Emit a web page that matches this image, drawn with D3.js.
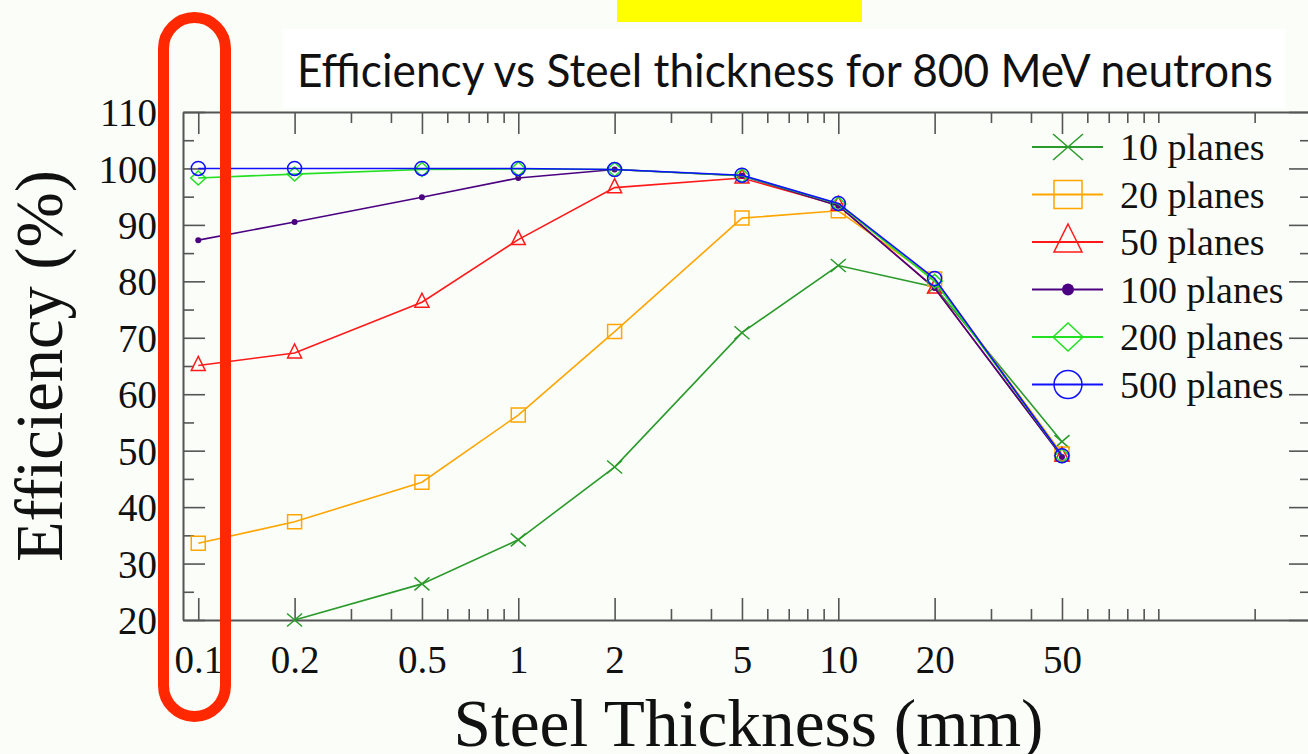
<!DOCTYPE html>
<html>
<head>
<meta charset="utf-8">
<script src="https://cdn.jsdelivr.net/npm/d3@7"></script>
<style>
  html, body { margin: 0; padding: 0; background: #fbfdf9; }
  svg { display: block; }
</style>
</head>
<body>
<script>
// data
const thickness = [0.1, 0.2, 0.5, 1, 2, 5, 10, 20, 50];
const planes10  = [null, 20, 26.4, 34.2, 47.1, 70.9, 82.8, 79.0, 51.6];
const planes20  = [33.6, 37.4, 44.4, 56.3, 71.1, 91.2, 92.5, 80.4, 49.4];
const planes50  = [65.1, 67.3, 76.3, 87.4, 96.6, 98.3, 93.5, 78.8, 49.0];
const planes100 = [87.3, 90.5, 94.9, 98.3, 99.8, 98.7, 93.4, 78.8, 48.9];
const planes200 = [98.3, 99.0, 99.8, 99.9, 99.8, 98.7, 93.7, 80.0, 49.1];
const planes500 = [100, 100, 100, 100, 99.8, 98.8, 93.8, 80.5, 49.1];
const seriesNames = ["10 planes", "20 planes", "50 planes", "100 planes", "200 planes", "500 planes"];
const xMajor = [0.1, 0.2, 0.5, 1, 2, 5, 10, 20, 50];
const xMinor = [0.3, 0.4, 0.6, 0.7, 0.8, 0.9, 3, 4, 6, 7, 8, 9, 30, 40, 60, 70, 80, 90, 100, 200];
const yMajor = [20, 30, 40, 50, 60, 70, 80, 90, 100, 110];
const yMinor = [25, 35, 45, 55, 65, 75, 85, 95, 105];

const W = 1308, H = 754;
const plotLeft = 183, plotRight = 1311, plotTop = 112, plotBottom = 620;
const axisColor = "#555";

const series = [
  { name: seriesNames[0], values: planes10,  color: "#2a9a2a", shape: "x" },
  { name: seriesNames[1], values: planes20,  color: "#ffa500", shape: "square" },
  { name: seriesNames[2], values: planes50,  color: "#ff1a1a", shape: "triangle" },
  { name: seriesNames[3], values: planes100, color: "#4b0082", shape: "dot" },
  { name: seriesNames[4], values: planes200, color: "#22e022", shape: "diamond" },
  { name: seriesNames[5], values: planes500, color: "#1010ff", shape: "circle" }
];

const svg = d3.select("body").append("svg")
  .attr("width", W)
  .attr("height", H);

// yellow tab + title box
svg.append("rect").attr("x", 617).attr("y", 0).attr("width", 245).attr("height", 22).attr("fill", "#ffff00");
svg.append("rect").attr("x", 283).attr("y", 29).attr("width", 1002).attr("height", 79).attr("fill", "#ffffff");
svg.append("text")
  .attr("x", 297).attr("y", 87)
  .attr("font-family", "Lato, 'Open Sans', sans-serif")
  .attr("font-size", 46)
  .attr("textLength", 976)
  .attr("lengthAdjust", "spacingAndGlyphs")
  .attr("fill", "#111")
  .text("Efficiency vs Steel thickness for 800 MeV neutrons");

const x = d3.scaleLog().domain([0.0896, 300]).range([plotLeft, plotRight]);
const y = d3.scaleLinear().domain([20, 110]).range([plotBottom, plotTop]);

const serif = "'Liberation Serif', 'DejaVu Serif', serif";

function styleAxis(g) {
  g.select(".domain").attr("stroke", axisColor).attr("stroke-width", 2);
  g.selectAll(".tick line").attr("stroke", axisColor).attr("stroke-width", 1.6);
  g.attr("font-family", serif).attr("font-size", 39);
  g.selectAll("text").attr("fill", "#111");
}

// bottom axis
const gx = svg.append("g").attr("transform", "translate(0," + plotBottom + ")")
  .call(d3.axisBottom(x).tickValues(xMajor).tickSize(-22).tickSizeOuter(0).tickFormat(d3.format("")));
styleAxis(gx);
gx.selectAll("text").attr("y", 53).attr("dy", null);
svg.append("g").attr("transform", "translate(0," + plotBottom + ")")
  .call(d3.axisBottom(x).tickValues(xMinor).tickSize(-11).tickFormat(""))
  .call(g => g.select(".domain").remove())
  .call(styleAxis);

// top axis
const gt = svg.append("g").attr("transform", "translate(0," + plotTop + ")")
  .call(d3.axisTop(x).tickValues(xMajor).tickSize(-22).tickSizeOuter(0).tickFormat(""));
styleAxis(gt);
svg.append("g").attr("transform", "translate(0," + plotTop + ")")
  .call(d3.axisTop(x).tickValues(xMinor).tickSize(-11).tickFormat(""))
  .call(g => g.select(".domain").remove())
  .call(styleAxis);

// left axis
const gy = svg.append("g").attr("transform", "translate(" + plotLeft + ",0)")
  .call(d3.axisLeft(y).tickValues(yMajor).tickSize(-22).tickSizeOuter(0));
styleAxis(gy);
gy.selectAll("text").attr("x", -26).attr("dy", "0.35em");
svg.append("g").attr("transform", "translate(" + plotLeft + ",0)")
  .call(d3.axisLeft(y).tickValues(yMinor).tickSize(-11).tickFormat(""))
  .call(g => g.select(".domain").remove())
  .call(styleAxis);

// right axis
svg.append("g").attr("transform", "translate(" + plotRight + ",0)")
  .call(d3.axisRight(y).tickValues(yMajor).tickSize(-22).tickSizeOuter(0).tickFormat(""))
  .call(styleAxis);
svg.append("g").attr("transform", "translate(" + plotRight + ",0)")
  .call(d3.axisRight(y).tickValues(yMinor).tickSize(-11).tickFormat(""))
  .call(g => g.select(".domain").remove())
  .call(styleAxis);

// axis titles
svg.append("text")
  .attr("x", (452 + 1045) / 2).attr("y", 746)
  .attr("text-anchor", "middle")
  .attr("font-family", serif).attr("font-size", 68)
  .attr("textLength", 590).attr("lengthAdjust", "spacingAndGlyphs")
  .attr("fill", "#111")
  .text("Steel Thickness (mm)");

svg.append("text")
  .attr("transform", "translate(62,366)rotate(-90)")
  .attr("text-anchor", "middle")
  .attr("font-family", serif).attr("font-size", 67)
  .attr("textLength", 392).attr("lengthAdjust", "spacingAndGlyphs")
  .attr("fill", "#111")
  .text("Efficiency (%)");

// marker shapes at plot size
function shapePath(shape) {
  if (shape === "x") return "M-7.5,-6.5L7.5,6.5M-7.5,6.5L7.5,-6.5";
  if (shape === "square") return "M-7,-7L7,-7L7,7L-7,7Z";
  if (shape === "triangle") return "M0,-9L7,5L-7,5Z";
  if (shape === "diamond") return "M0,-7L7.5,0L0,7L-7.5,0Z";
  if (shape === "circle") return d3.symbol(d3.symbolCircle, Math.PI * 49)();
  return d3.symbol(d3.symbolCircle, Math.PI * 9)();
}

function drawMarker(g, s, scale) {
  g.append("path")
    .attr("d", shapePath(s.shape))
    .attr("transform", "scale(" + scale + ")")
    .attr("vector-effect", "non-scaling-stroke")
    .attr("fill", s.shape === "dot" ? s.color : "none")
    .attr("stroke", s.color)
    .attr("stroke-width", s.shape === "dot" ? 0 : 1.5);
}

const line = d3.line()
  .defined(d => d.v != null)
  .x(d => x(d.t))
  .y(d => y(d.v));

series.forEach(s => {
  const pts = thickness.map((t, i) => ({ t: t, v: s.values[i] }));
  svg.append("path")
    .datum(pts)
    .attr("d", line)
    .attr("fill", "none")
    .attr("stroke", s.color)
    .attr("stroke-width", 1.6);
  svg.selectAll(null)
    .data(pts.filter(d => d.v != null))
    .enter()
    .append("g")
    .attr("transform", d => "translate(" + x(d.t) + "," + y(d.v) + ")")
    .each(function () { drawMarker(d3.select(this), s, 1); });
});

// legend
const legend = svg.append("g");
series.forEach((s, i) => {
  const ly = 147 + i * 47.5;
  const row = legend.append("g").attr("transform", "translate(0," + ly + ")");
  row.append("line")
    .attr("x1", 1032).attr("x2", 1103)
    .attr("stroke", s.color).attr("stroke-width", 2);
  const m = row.append("g").attr("transform", "translate(1068,0)");
  drawMarker(m, s, 2);
  row.append("text")
    .attr("x", 1120).attr("y", 13)
    .attr("font-family", serif).attr("font-size", 38)
    .attr("fill", "#111")
    .text(s.name);
});

// red highlight around 0.1 mm
svg.append("rect")
  .attr("x", 163.5).attr("y", 17.5)
  .attr("width", 62).attr("height", 699)
  .attr("rx", 31).attr("ry", 31)
  .attr("fill", "none")
  .attr("stroke", "#ff2800")
  .attr("stroke-width", 11);
</script>
</body>
</html>
